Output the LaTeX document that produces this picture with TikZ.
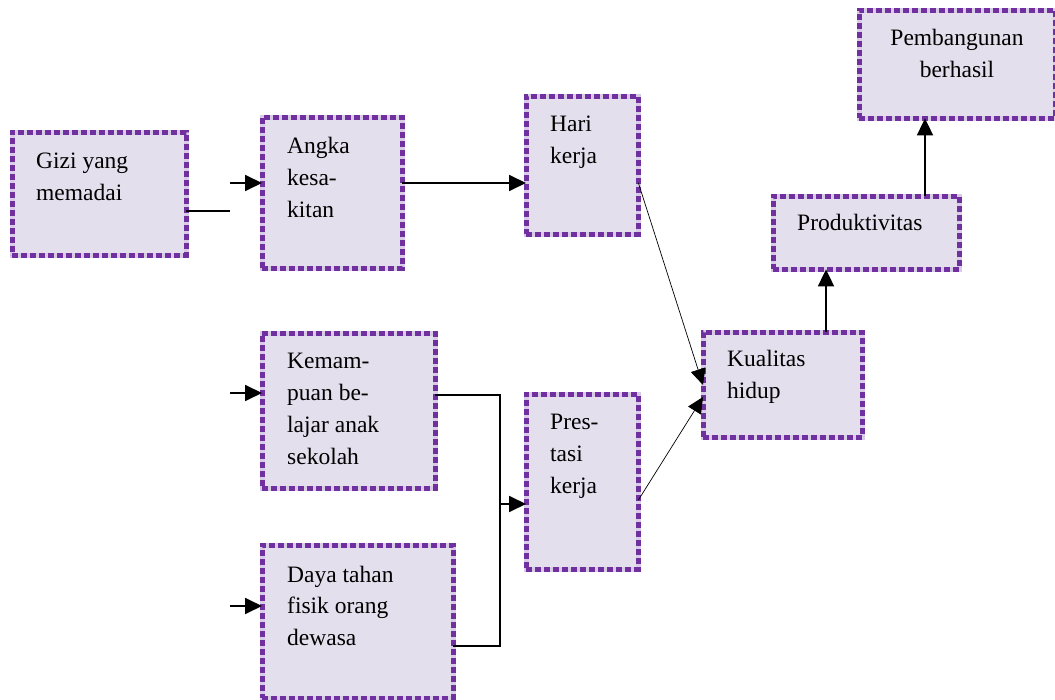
\documentclass[tikz,border=0pt]{standalone}
\usepackage{fontspec}
\setmainfont{Liberation Serif}
\usetikzlibrary{arrows.meta,calc}
\definecolor{boxfill}{HTML}{E4DFEC}
\definecolor{boxpurple}{HTML}{7030A0}
\definecolor{boxlight}{HTML}{D9CCE6}
\newcommand\mlines[1]{\begin{tabular}[t]{@{}l@{}}#1\end{tabular}}
\newcommand\clines[1]{\begin{tabular}[t]{@{}c@{}}#1\end{tabular}}
\begin{document}
\begin{tikzpicture}[x=1pt,y=-1pt,
  box/.style={anchor=north west, inner sep=0pt, fill=boxfill, draw=none,
    postaction={draw=boxlight, line width=4.8pt},
    postaction={draw=boxpurple, line width=4.8pt, dash pattern=on 6pt off 3pt}},
  txt/.style={anchor=base west, inner sep=0pt, font=\fontsize{23.5}{31.7}\selectfont},
  ln/.style={line width=1.8pt, draw=black},
  arr/.style={ln, -{Triangle[length=17pt,width=16pt]}},
  thin/.style={line width=0.7pt, draw=black, -{Triangle[length=16pt,width=15pt]}}
]
\useasboundingbox (0,0) rectangle (1055,700);

% boxes
\node[box, minimum width=174pt, minimum height=123pt] (gizi) at (12,132) {};
\node[box, minimum width=140pt, minimum height=151pt] (angka) at (262,117) {};
\node[box, minimum width=112pt, minimum height=138pt] (hari) at (526,96) {};
\node[box, minimum width=173pt, minimum height=155pt] (kemam) at (262,333) {};
\node[box, minimum width=191pt, minimum height=153pt] (daya) at (262,545) {};
\node[box, minimum width=112pt, minimum height=175pt] (pres) at (526,394) {};
\node[box, minimum width=159pt, minimum height=105pt] (kual) at (703,332) {};
\node[box, minimum width=186pt, minimum height=73pt] (prod) at (773,196) {};
\node[box, minimum width=196pt, minimum height=108pt] (pemb) at (859,10) {};

% texts
\node[txt] (tgizi) at (36,169) {\mlines{Gizi yang\\memadai}};
\node[txt] (tangka) at (287,154) {\mlines{Angka\\kesa-\\kitan}};
\node[txt] (thari) at (550,132) {\mlines{Hari\\kerja}};
\node[txt] (tkemam) at (287,369) {\mlines{Kemam-\\puan be-\\lajar anak\\sekolah}};
\node[txt] (tdaya) at (287,582) {\mlines{Daya tahan\\fisik orang\\dewasa}};
\node[txt] (tpres) at (550,430) {\mlines{Pres-\\tasi\\kerja}};
\node[txt] (tkual) at (727,367) {\mlines{Kualitas\\hidup}};
\node[txt] (tprod) at (797,231) {Produktivitas};
\node[txt, anchor=base] (tpemb) at (957,46) {\clines{Pembangunan\\berhasil}};

% coordinates
\coordinate (g1) at (230,211);
\coordinate (a0) at (230,183);
\coordinate (k0) at (230,393);
\coordinate (d0) at (230,606);
\coordinate (k1) at (500,395);
\coordinate (d1) at (500,646);
\coordinate (p0) at (500,504);
\coordinate (hk) at (703,385);
\coordinate (pk) at (703,397);
\coordinate (ps) at (638,500);
\coordinate (qx) at (826,0);
\coordinate (rx) at (925,0);

% connectors
\draw[ln] (gizi.east |- g1) -- (g1);
\draw[arr] (a0) -- (angka.west |- a0);
\draw[arr] (angka.east |- a0) -- (hari.west |- a0);
\draw[thin] (hari.east |- a0) -- (hk);
\draw[thin] (pres.east |- ps) -- (pk);
\draw[arr] (kual.north -| qx) -- (prod.south -| qx);
\draw[arr] (prod.north -| rx) -- (pemb.south -| rx);
\draw[arr] (k0) -- (kemam.west |- k0);
\draw[arr] (d0) -- (daya.west |- d0);
\draw[ln] (kemam.east |- k1) -- (k1) -- (d1) -- (daya.east |- d1);
\draw[arr] (p0) -- (pres.west |- p0);
\end{tikzpicture}
\end{document}
